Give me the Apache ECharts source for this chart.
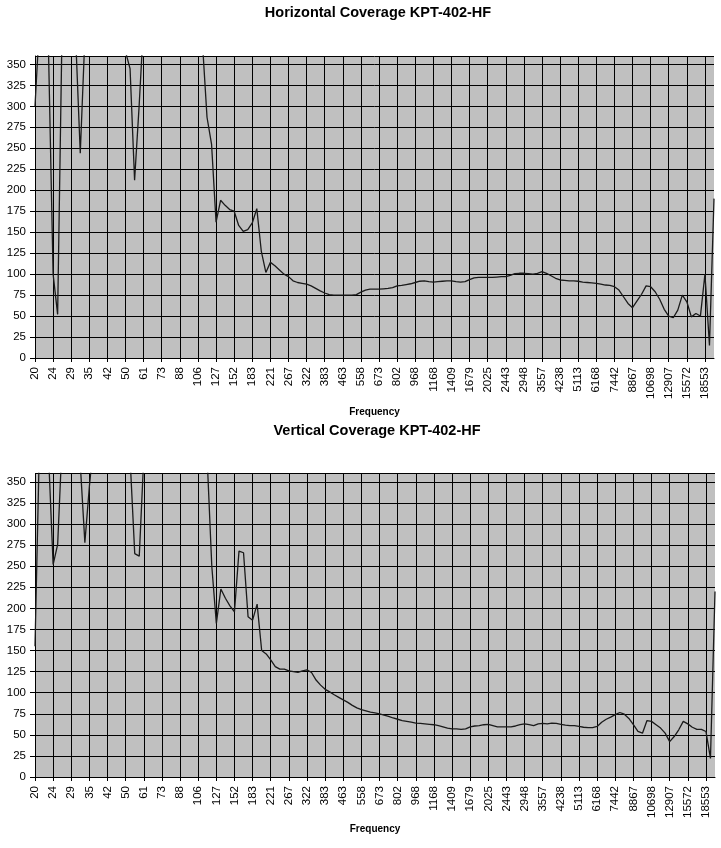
<!DOCTYPE html>
<html>
<head>
<meta charset="utf-8">
<script src="https://cdn.jsdelivr.net/npm/echarts@6/dist/echarts.min.js"></script>
<style>
  html, body { margin: 0; padding: 0; background: #ffffff; }
  #chart { width: 721px; height: 848px; }
</style>
</head>
<body>
<div id="chart"></div>
<script>
// ---- Data ----
const tickLabels = ['20','24','29','35','42','50','61','73','88','106','127','152','183','221','267','322','383','463','558','673','802','968','1168','1409','1679','2025','2443','2948','3557','4238','5113','6168','7442','8867','10698','12907','15572','18553'];

const horizontalCoverage = [
  300,400,400,362,100,52,400,400,400,380,
  244,380,400,400,400,400,400,400,400,400,
  365,345,212,300,400,400,400,400,400,400,
  400,400,400,400,400,400,400,375,287,255,
  162,188,182,177,175,158,151,153,161,178,
  127,102,114,110,105,100,97,92,90,89,
  88,86,83,80,77.5,75.5,75,75,75,75,
  75,75.5,78.5,81,82,82,82,82.5,83,84,
  86,86.5,87.5,88.5,90,91.5,92,91,90.5,91,
  91.5,92,92,91,90.5,91,93.5,95.5,96,96,
  96,96,96.5,97,97,98.5,100.5,101,101,100.5,
  100,101,103,101,98,95,93,92.5,92,92,
  91.5,90.5,90,89.5,89,88,87,86.5,85,81,
  73,65,60,68,76,86,85,79,70,58,
  50,48,57,75,67,49,53,50,100,15,
  190
];

const verticalCoverage = [
  155,400,400,380,252,276,400,400,400,400,
  370,278,345,400,400,400,400,400,400,400,
  400,375,265,262,380,400,400,400,400,400,
  400,400,400,400,400,400,400,400,375,250,
  182,223,212,203,196,268,266,190,186,205,
  150,146,139,131,128,128,126,125,124,126,
  127,124,115,109,104,101,97.5,94.5,91.5,88.5,
  85,82,80,78.5,77,76,75,73.5,72,70,
  68.5,67,66,65,64,63.5,63,62.5,62,61,
  59.5,58,57,57,56.5,57,59.5,60.5,61,62,
  62.5,61,59.5,59.5,59.5,59.5,60.5,62,63,62,
  61,63,63.5,63,64,63.5,62.5,61.5,61,61,
  60,59,58.5,58.5,60,65,68.5,71,74,76.5,
  74.5,69.5,62,54,52,67,66,62,58,52,
  42,48,56,66,63,59,56.5,56.5,54,22,
  220
];

const titles = ['Horizontal Coverage KPT-402-HF', 'Vertical Coverage KPT-402-HF'];
const xName = 'Frequency';

// category list: each tick label followed by 3 unlabeled measurement points
const step = 4;
const categories = horizontalCoverage.map((_, i) =>
  (i % step === 0 && tickLabels[i / step] !== undefined)
    ? tickLabels[i / step]
    : tickLabels[Math.floor(i / step)] + '.' + (i % step));

const FONT = "'Liberation Sans', Arial, sans-serif";

function xAxisFor(gridIndex, nameGap) {
  return {
    gridIndex: gridIndex,
    type: 'category',
    boundaryGap: false,
    data: categories,
    name: xName,
    nameLocation: 'middle',
    nameGap: nameGap,
    nameTextStyle: { fontFamily: FONT, fontWeight: 'bold', fontSize: 10, color: '#000' },
    axisLine: { show: true, lineStyle: { color: '#000', width: 1 } },
    axisTick: { show: true, interval: step - 1, length: 4, lineStyle: { color: '#000' } },
    axisLabel: { interval: step - 1, rotate: 90, fontFamily: FONT, fontSize: 11.5, color: '#000', margin: 9 },
    splitLine: { show: true, interval: step - 1, lineStyle: { color: '#000', width: 1 } }
  };
}
function yAxisFor(gridIndex) {
  return {
    gridIndex: gridIndex,
    type: 'value',
    min: 0, max: 360, interval: 25,
    axisLine: { show: true, lineStyle: { color: '#000', width: 1 } },
    axisTick: { show: true, length: 5, lineStyle: { color: '#000' } },
    axisLabel: { fontFamily: FONT, fontSize: 11.5, color: '#000', margin: 9, showMaxLabel: false },
    splitLine: { show: true, lineStyle: { color: '#000', width: 1 } }
  };
}
function lineSeries(idx, values) {
  return {
    type: 'line',
    xAxisIndex: idx, yAxisIndex: idx,
    data: values,
    showSymbol: false,
    clip: true,
    lineStyle: { color: '#1a1a1a', width: 1.3 },
    itemStyle: { color: '#1a1a1a' }
  };
}

const chart = echarts.init(document.getElementById('chart'), null, { renderer: 'canvas' });
chart.setOption({
  animation: false,
  backgroundColor: '#ffffff',
  graphic: [
    { type: 'text', x: 378, y: 13, style: { text: titles[0], font: "bold 14.5px " + FONT, fill: '#000', textAlign: 'center', textVerticalAlign: 'middle' } },
    { type: 'text', x: 377, y: 431, style: { text: titles[1], font: "bold 14.5px " + FONT, fill: '#000', textAlign: 'center', textVerticalAlign: 'middle' } }
  ],
  grid: [
    { left: 35, right: 7, top: 56, height: 302, show: true, backgroundColor: '#c0c0c0', borderWidth: 0, containLabel: false },
    { left: 35, right: 6, top: 473.5, height: 303.5, show: true, backgroundColor: '#c0c0c0', borderWidth: 0, containLabel: false }
  ],
  xAxis: [xAxisFor(0, 49), xAxisFor(1, 47)],
  yAxis: [yAxisFor(0), yAxisFor(1)],
  series: [lineSeries(0, horizontalCoverage), lineSeries(1, verticalCoverage)]
});
</script>
</body>
</html>
